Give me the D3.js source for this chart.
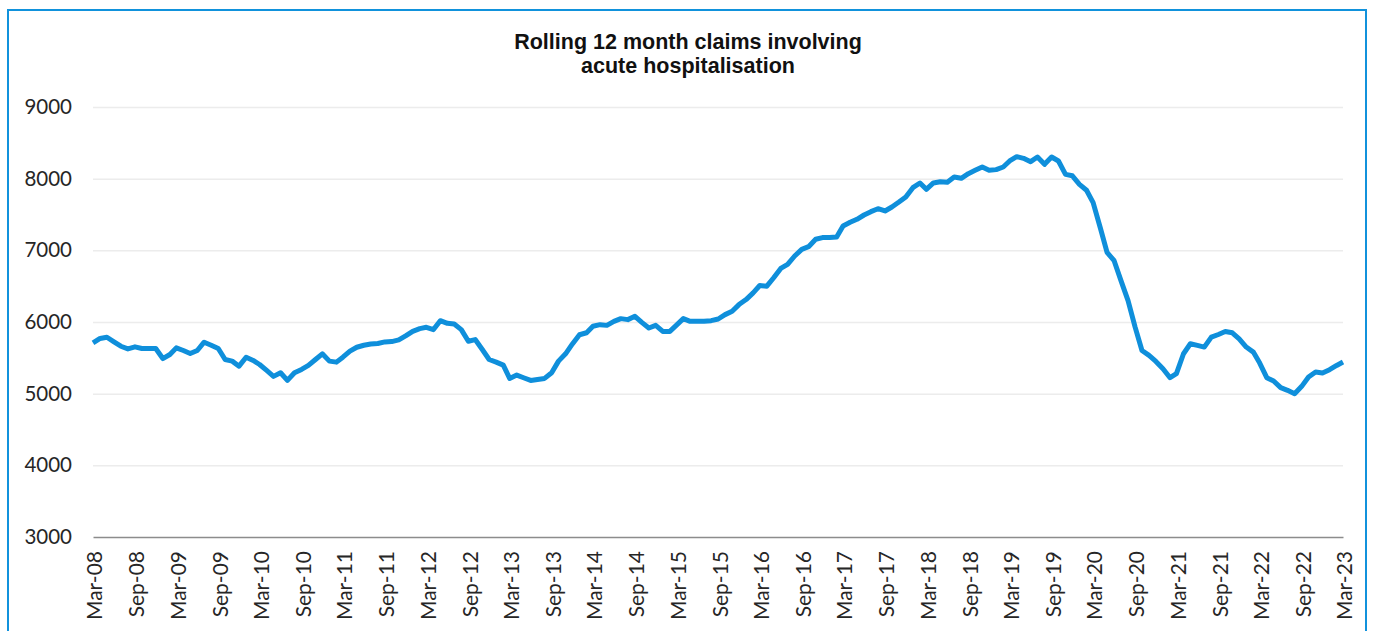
<!DOCTYPE html>
<html>
<head>
<meta charset="utf-8">
<script src="https://cdn.jsdelivr.net/npm/d3@7"></script>
<style>
  body { margin: 0; background: #fff; }
  .grid line { stroke: #ececec; stroke-width: 1.5; }
  .grid .domain { display: none; }
  .ytick text, .xtick text { fill: #262626; font-family: Lato, "Open Sans", sans-serif; }
</style>
</head>
<body>
<div id="graph"></div>
<script>
// data: monthly, Mar-08 to Mar-23
var startMonth = new Date(2008, 2, 1);
var claims2008 = [5708, 5770, 5787, 5722, 5662, 5625, 5653, 5630, 5630, 5630];
var claims2009 = [5490, 5546, 5639, 5602, 5560, 5602, 5718, 5676, 5630, 5477, 5454, 5384];
var claims2010 = [5509, 5463, 5407, 5324, 5241, 5292, 5185, 5292, 5338, 5394, 5477, 5556];
var claims2011 = [5454, 5440, 5509, 5593, 5648, 5676, 5694, 5700, 5722, 5727, 5750, 5806];
var claims2012 = [5870, 5907, 5926, 5894, 6018, 5981, 5972, 5894, 5731, 5755, 5616, 5477];
var claims2013 = [5440, 5398, 5213, 5259, 5222, 5185, 5199, 5213, 5292, 5454, 5556, 5694];
var claims2014 = [5822, 5850, 5940, 5963, 5953, 6009, 6047, 6033, 6079, 5995, 5916, 5953];
var claims2015 = [5869, 5869, 5953, 6047, 6009, 6009, 6009, 6019, 6042, 6103, 6150, 6243];
var claims2016 = [6313, 6407, 6509, 6500, 6617, 6748, 6804, 6921, 7014, 7051, 7154, 7178];
var claims2017 = [7180, 7185, 7340, 7391, 7433, 7493, 7540, 7581, 7549, 7605, 7674, 7744];
var claims2018 = [7874, 7940, 7851, 7940, 7958, 7949, 8023, 8005, 8070, 8116, 8163, 8116];
var claims2019 = [8126, 8163, 8247, 8307, 8284, 8237, 8302, 8200, 8302, 8247, 8060, 8040];
var claims2020 = [7921, 7838, 7666, 7318, 6971, 6855, 6577, 6299, 5928, 5603, 5534, 5450];
var claims2021 = [5348, 5223, 5279, 5557, 5696, 5673, 5650, 5789, 5826, 5867, 5849, 5765];
var claims2022 = [5650, 5580, 5427, 5223, 5177, 5084, 5047, 5000, 5102, 5232, 5302, 5288];
var claims2023 = [5334, 5394, 5441];

var yTicks = [3000, 4000, 5000, 6000, 7000, 8000, 9000];
var title = ["Rolling 12 month claims involving", "acute hospitalisation"];

var values = [].concat(claims2008, claims2009, claims2010, claims2011, claims2012,
  claims2013, claims2014, claims2015, claims2016, claims2017, claims2018,
  claims2019, claims2020, claims2021, claims2022, claims2023);

var data = values.map(function(v, i) {
  return { date: d3.timeMonth.offset(startMonth, i), value: v };
});

var svg = d3.select('#graph').append("svg")
  .attr('width', 1375)
  .attr('height', 631);

// outer frame
svg.append("rect")
  .attr("x", 8).attr("y", 10)
  .attr("width", 1358).attr("height", 640)
  .attr("fill", "none")
  .attr("stroke", "#1192dc")
  .attr("stroke-width", 2);

var margin = {top: 107, left: 93},
  width = 1250,
  height = 430,
  g = svg.append("g").attr("transform", "translate(" + margin.left + "," + margin.top + ")");

var x = d3.scaleTime()
  .domain([data[0].date, data[data.length - 1].date])
  .range([0, width]);
var y = d3.scaleLinear().domain([3000, 9000]).range([height, 0]);

// title
svg.append("text")
  .attr("x", 688).attr("y", 49)
  .attr("text-anchor", "middle")
  .style("font-family", "Arial, 'Liberation Sans', sans-serif")
  .style("font-weight", "bold")
  .style("font-size", "21.5px")
  .style("fill", "#111")
  .selectAll("tspan")
  .data(title).enter().append("tspan")
  .attr("x", 688)
  .attr("dy", function(d, i) { return i ? 24 : 0; })
  .text(function(d) { return d; });

// gridlines
g.append("g")
  .attr("class", "grid")
  .call(d3.axisLeft(y).tickValues(yTicks.slice(1)).tickSize(-width).tickFormat(""));

// y labels
g.append("g")
  .attr("class", "ytick")
  .call(d3.axisLeft(y).tickValues(yTicks).tickSize(0).tickPadding(21).tickFormat(d3.format("d")))
  .call(function(a) { a.select(".domain").remove(); })
  .selectAll("text")
  .style("font-size", "20.5px");

// x axis
var xTicks = d3.range(0, data.length, 6).map(function(i) { return data[i].date; });
var xAxis = g.append("g")
  .attr("class", "xtick")
  .attr("transform", "translate(0," + height + ")")
  .call(d3.axisBottom(x).tickValues(xTicks).tickSize(0).tickFormat(d3.timeFormat("%b-%y")));
xAxis.select(".domain").attr("stroke", "#8c8c8c").attr("stroke-width", 1.5);
xAxis.selectAll("text")
  .style("font-size", "21px")
  .attr("text-anchor", "end")
  .attr("dy", "0.42em")
  .attr("y", 0)
  .attr("x", -14)
  .attr("transform", "rotate(-90)");

// the line
var claimLine = d3.line()
  .x(function(d) { return x(d.date); })
  .y(function(d) { return y(d.value); });

g.append("path")
  .datum(data)
  .attr("fill", "none")
  .attr("stroke", "#0f8fdb")
  .attr("stroke-width", 5)
  .attr("stroke-linejoin", "round")
  .attr("d", claimLine);
</script>
</body>
</html>
